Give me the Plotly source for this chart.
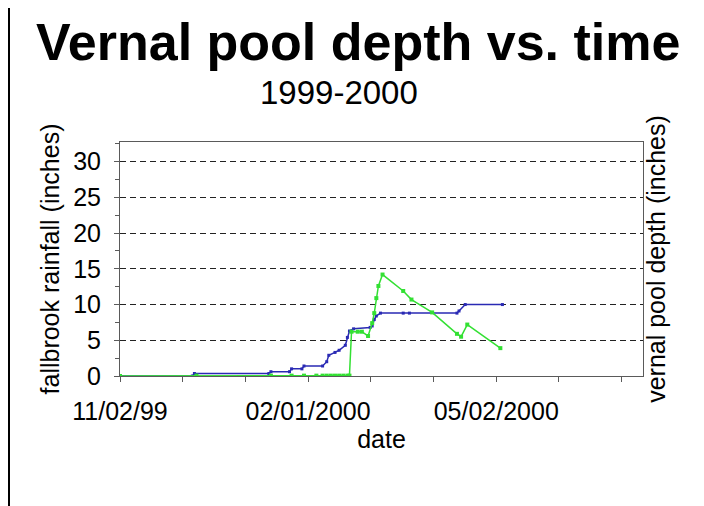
import plotly.graph_objects as go

# ---- data ----
rain_dates = ["1999-11-02", "1999-12-07", "1999-12-08", "2000-01-13", "2000-01-14",
              "2000-01-23", "2000-01-24", "2000-01-29", "2000-01-30", "2000-02-08",
              "2000-02-10", "2000-02-11", "2000-02-14", "2000-02-16", "2000-02-19",
              "2000-02-20", "2000-02-21", "2000-02-23", "2000-03-02", "2000-03-03",
              "2000-03-04", "2000-03-05", "2000-03-07", "2000-03-18", "2000-03-21",
              "2000-04-13", "2000-04-14", "2000-04-17", "2000-05-05"]
rain_values = [0.0, 0.0, 0.35, 0.35, 0.6,
               0.6, 1.0, 1.0, 1.4, 1.4,
               2.0, 2.9, 3.3, 3.6, 4.3,
               5.4, 6.3, 6.6, 6.8, 7.0,
               7.9, 8.4, 8.8, 8.8, 8.8,
               8.8, 9.1, 10.0, 10.0]

pool_dates = ["1999-11-02", "1999-12-09", "2000-01-14", "2000-01-24", "2000-01-30",
              "2000-02-05", "2000-02-08", "2000-02-10", "2000-02-12", "2000-02-14",
              "2000-02-16", "2000-02-18", "2000-02-20", "2000-02-21", "2000-02-22",
              "2000-02-25", "2000-02-27", "2000-03-01", "2000-03-03", "2000-03-04",
              "2000-03-05", "2000-03-06", "2000-03-08", "2000-03-18", "2000-03-22",
              "2000-04-01", "2000-04-13", "2000-04-15", "2000-04-18", "2000-05-04"]
pool_values = [0.0, 0.05, 0.05, 0.05, 0.05,
               0.05, 0.05, 0.05, 0.05, 0.05,
               0.05, 0.05, 0.05, 0.05, 6.2,
               6.2, 6.2, 5.6, 7.4, 8.8,
               10.9, 12.6, 14.2, 11.9, 10.7,
               8.9, 5.9, 5.5, 7.2, 3.9]

x_label_dates = ["1999-11-02", "2000-02-01", "2000-05-02"]
x_label_text = ["11/02/99", "02/01/2000", "05/02/2000"]
y_tick_vals = [0, 5, 10, 15, 20, 25, 30]

FONT = "Liberation Sans, Arial, sans-serif"
AXIS_GRAY = "#5a5a5a"
DAY_MS = 86400000

# page body has an 8px margin: figure is drawn from (8, 8) in the window
OFF = 8
PL, PR, PT, PB = 120, 643, 142, 376   # plot box in window pixels
W, H = 704 - OFF, 506 - OFF
PW, PH = PR - PL, PB - PT


def px_x(x):
    return (x - PL) / PW


def px_y(y):
    return (PB - y) / PH


fig = go.Figure()
fig.add_trace(go.Scatter(
    x=rain_dates, y=rain_values, mode="lines+markers",
    line=dict(color="#2a2ab4", width=1.5),
    marker=dict(color="#2a2ab4", size=3, symbol="square"),
    showlegend=False, yaxis="y"))
fig.add_trace(go.Scatter(
    x=pool_dates, y=pool_values, mode="lines+markers",
    line=dict(color="#33e033", width=1.5),
    marker=dict(color="#33e033", size=4, symbol="square"),
    showlegend=False, yaxis="y2"))

fig.update_layout(
    width=W, height=H,
    margin=dict(l=PL - OFF, r=W - (PR - OFF), t=PT - OFF, b=H - (PB - OFF),
                autoexpand=False),
    paper_bgcolor="white", plot_bgcolor="white",
    font=dict(family=FONT, size=25, color="black"),
    xaxis=dict(
        type="date", range=["1999-11-02", "2000-07-12"],
        tickmode="array", tickvals=x_label_dates, ticktext=x_label_text,
        ticks="outside", ticklen=5, tickcolor=AXIS_GRAY,
        ticklabelstandoff=8,
        minor=dict(tick0="1999-11-02", dtick=91 / 3 * DAY_MS, ticks="outside",
                   ticklen=5, tickcolor=AXIS_GRAY, showgrid=False),
        showgrid=False, zeroline=False,
        showline=True, linecolor=AXIS_GRAY, linewidth=1, mirror=True,
        title=dict(text="date", standoff=0, font=dict(size=25)),
        tickfont=dict(size=25),
    ),
    yaxis=dict(
        range=[0, 32.75], tickmode="array", tickvals=y_tick_vals,
        ticks="outside", ticklen=5, tickcolor=AXIS_GRAY,
        ticklabelstandoff=8,
        minor=dict(dtick=2.5, ticks="outside", ticklen=4, tickcolor=AXIS_GRAY,
                   showgrid=False),
        showgrid=True, gridcolor="#222222", gridwidth=1, griddash="6px,4px",
        zeroline=False,
        showline=True, linecolor=AXIS_GRAY, linewidth=1, mirror=True,
        title=dict(text="fallbrook rainfall (inches)", standoff=6, font=dict(size=25)),
        tickfont=dict(size=25),
    ),
    yaxis2=dict(
        range=[0, 32.75], overlaying="y", side="right",
        showticklabels=False, ticks="", showgrid=False, zeroline=False,
        showline=False,
        title=dict(text="vernal pool depth (inches)", standoff=4, font=dict(size=25)),
    ),
    annotations=[
        dict(text="<b>Vernal pool depth vs. time</b>", xref="paper", yref="paper",
             x=px_x(358), y=px_y(42), xanchor="center", yanchor="middle",
             showarrow=False, font=dict(family=FONT, size=52, color="black")),
        dict(text="1999-2000", xref="paper", yref="paper",
             x=px_x(339), y=px_y(92), xanchor="center", yanchor="middle",
             showarrow=False, font=dict(family=FONT, size=33, color="black")),
    ],
    shapes=[
        dict(type="line", xref="paper", yref="paper",
             x0=px_x(OFF + 1), x1=px_x(OFF + 1), y0=px_y(506), y1=px_y(OFF),
             line=dict(color="black", width=2)),
    ],
)

fig.write_html("out.html")
